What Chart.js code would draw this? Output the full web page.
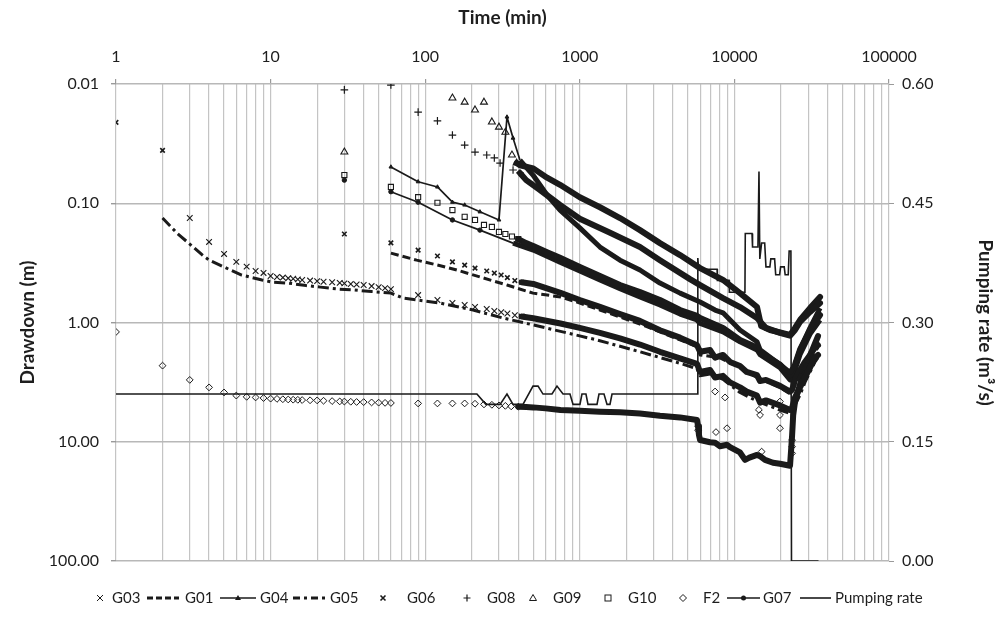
<!DOCTYPE html>
<html><head><meta charset="utf-8">
<script src="https://cdn.jsdelivr.net/npm/chart.js@4.4.1/dist/chart.umd.min.js"></script>
<style>html,body{margin:0;padding:0;background:#fff;}#wrap{width:1001px;height:617px;}</style>
</head><body><div id="wrap"><canvas id="c" width="1001" height="617"></canvas></div>
<script>
// ---------- tick labels ----------
const xTicks = [1, 10, 100, 1000, 10000, 100000];
const yTicks = [0.01, 0.1, 1, 10, 100];
const y2Ticks = [0, 0.15, 0.30, 0.45, 0.60];
const seriesNames = ['G03','G01','G04','G05','G06','G08','G09','G10','F2','G07','Pumping rate'];

// ---------- data: [time (min), drawdown (m)] ----------
const G06 = [[1,0.021],[2,0.036],[30,0.181],[60,0.215],[90,0.247],[120,0.277],[150,0.31],[180,0.33],[210,0.35],[250,0.37],[280,0.385],[310,0.40],[340,0.42],[380,0.445],[420,0.46],
 [500,0.475],[750,0.565],[1000,0.648],[1350,0.74],[1820,0.85],[2450,0.97],[3300,1.16],[4450,1.34],[5730,1.55],[6000,1.76],[6950,1.70],[7500,1.97],[8440,1.87],[9370,2.14],[10870,2.32],[12000,2.6],[14000,2.76],[14650,3.1],[16000,3.03],[19700,3.4],[22900,3.8],[23600,3.68],[24670,3.03],[26570,2.5],[28600,2.14],[30840,1.87],[33220,1.62],[34750,1.55]];
const G03 = [[3,0.133],[4,0.211],[5,0.266],[6,0.31],[7,0.34],[8,0.37],[9,0.384],[10,0.407],[11,0.415],[12,0.42],[13,0.425],[14,0.43],[15,0.435],[16,0.44],[18,0.445],[20,0.45],[22,0.455],[25,0.46],[28,0.465],[30,0.47],[33,0.475],[36,0.48],[40,0.485],[45,0.495],[50,0.505],[55,0.515],[60,0.525],
 [90,0.589],[120,0.648],[150,0.687],[180,0.713],[210,0.742],[250,0.77],[280,0.80],[310,0.82],[340,0.84],[380,0.87],[420,0.89],
 [500,0.92],[750,1.02],[1000,1.11],[1350,1.22],[1820,1.36],[2450,1.53],[3300,1.76],[4450,2.0],[5730,2.22],[6000,2.6],[6950,2.5],[7500,2.89],[8440,2.8],[9370,3.18],[10870,3.5],[12000,3.8],[14000,4.1],[14650,4.7],[16000,4.5],[19700,4.96],[22900,5.42],[23600,5.2],[24670,4.25],[26570,3.5],[28600,2.89],[30840,2.39],[33220,1.97],[34750,1.87]];
const G05 = [[2,0.133],[2.5,0.18],[3,0.22],[3.6,0.27],[4,0.30],[4.7,0.33],[5.5,0.363],[6.5,0.40],[7.3,0.415],[8.8,0.44],[10.4,0.46],[13,0.467],[17,0.49],[21,0.505],[28,0.525],[35,0.534],[45,0.55],[60,0.567],
 [72,0.624],[125,0.687],[204,0.786],[318,0.916],[498,1.047],[820,1.22],[1290,1.40],[2450,1.76],[4450,2.2],[5730,2.44],[6000,2.8],[6950,2.7],[8440,3.0],[10870,3.86],[14000,4.56],[19700,5.42],[22900,5.8],[24670,4.92],[26570,4.05],[28600,3.18],[30840,2.6],[33220,2.14],[34750,1.97]];
const G01 = [[60,0.262],[88,0.30],[120,0.33],[160,0.363],[226,0.415],[338,0.485],[498,0.567],[750,0.61],[1000,0.687],[1350,0.786],[1820,0.90],[2450,1.03],[3300,1.2],[4450,1.40],[5730,1.59],[6000,1.87],[8000,1.97],[10870,2.39],[14000,2.89],[19700,3.5],[22900,3.97],[24670,3.34],[28600,2.34],[33220,1.76],[34750,1.62]];
const F2 = [[1,1.2],[2,2.3],[3,3.03],[4,3.5],[5,3.86],[6,4.1],[7,4.2],[8,4.25],[9,4.3],[10,4.35],[11,4.37],[12,4.4],[13,4.42],[14,4.44],[15,4.45],[16,4.47],[18,4.49],[20,4.5],[22,4.53],[25,4.56],[28,4.59],[30,4.6],[33,4.62],[36,4.64],[40,4.65],[45,4.68],[50,4.7],[55,4.72],[60,4.73],
 [90,4.77],[120,4.77],[150,4.77],[180,4.77],[210,4.8],[240,4.86],[270,4.9],[300,4.96],[330,5.0],[360,5.05],[400,5.08],
 [450,5.12],[500,5.15],[600,5.25],[750,5.42],[1000,5.5],[1350,5.6],[1820,5.67],[2450,5.8],[3300,6.05],[4450,6.25],[5730,6.57],[5820,7.4],[5900,8.8],[6000,9.67],[6950,10.1],[7500,10.2],[8070,10.9],[8960,10.6],[9370,11.1],[10870,12.3],[11720,14.2],[12500,13.6],[14010,12.9],[14650,13.2],[15780,14.2],[17770,15.0],[19720,15.3],[22900,15.9],
 [23600,9.0],[24000,6.0],[24670,4.6],[26570,3.3],[28600,2.5],[30840,1.9],[33220,1.5],[34750,1.3]];
const F2_spot = [[5820,7.4],[5820,8.0],[7500,3.79],[8700,4.25],[7600,8.3],[8960,7.7],[14650,5.97],[14400,5.4],[19720,5.97],[19720,4.6],[19720,7.7],[15000,12.1],[23600,9.7],[23600,11.0],[23600,12.5]];
const G09 = [[30,0.0372],[150,0.0131],[180,0.0142],[210,0.0165],[240,0.0142],[270,0.0208],[300,0.023],[330,0.0254],[364,0.0394],[390,0.046],
 [410,0.048],[500,0.051],[614,0.061],[745,0.070],[1000,0.089],[1350,0.108],[1820,0.133],[2450,0.168],[3300,0.216],[4450,0.272],[6000,0.35],[8440,0.44],[10870,0.567],[14010,0.742],[14900,1.07],[17000,1.156],[22900,1.27],[24670,1.11],[26570,0.953],[30840,0.757],[35800,0.61]];
const G08 = [[30,0.0112],[60,0.0102],[90,0.0172],[120,0.0204],[150,0.0268],[180,0.0325],[210,0.0372],[250,0.0394],[280,0.0417],[305,0.046],[370,0.0526],[410,0.0557],
 [450,0.064],[553,0.0774],[745,0.1034],[1000,0.135],[1570,0.177],[2450,0.233],[3300,0.30],[5160,0.433],[6000,0.486],[8440,0.624],[10870,0.742],[14000,0.916],[16000,1.11],[19700,1.22],[22900,1.29],[24670,1.156],[26570,0.99],[30840,0.816],[35800,0.687]];
const G04 = [[60,0.0496],[90,0.066],[120,0.073],[150,0.098],[180,0.1034],[226,0.118],[300,0.138],[338,0.0189],[370,0.0284],[410,0.0434],[498,0.058],[614,0.0853],[745,0.114],[1000,0.161],[1350,0.233],[1820,0.30],[2450,0.363],[3300,0.467],[4450,0.567],[6000,0.673],[7500,0.786],[8440,0.83],[10870,1.156],[14000,1.45],[14650,1.69],[19700,2.25],[22900,2.62],[24670,2.25],[26570,1.69],[30840,1.11],[35800,0.757]];
const G07 = [[30,0.064],[45,null],[60,0.080],[90,0.098],[150,0.138],[226,0.168],[370,0.216],[500,0.247],[745,0.312],[1000,0.37],[1350,0.44],[1820,0.52],[2450,0.61],[3300,0.713],[4450,0.85],[5730,0.953],[6000,1.02],[8440,1.2],[10870,1.45],[14000,1.7],[14650,1.86],[19700,2.39],[22900,3.03],[23950,2.9],[24670,2.5],[26570,1.86],[30840,1.25],[35800,0.953]];
const G10 = [[30,0.058],[60,0.073],[90,0.089],[120,0.099],[150,0.114],[180,0.130],[210,0.138],[240,0.152],[270,0.158],[300,0.174],[330,0.181],[364,0.19],[400,0.20],
 [450,0.216],[500,0.228],[614,0.257],[745,0.287],[1000,0.342],[1350,0.408],[1820,0.485],[2450,0.555],[3300,0.648],[4450,0.786],[5730,0.88],[6000,0.916],[8440,1.11],[10870,1.40],[14000,1.62],[14650,1.78],[19700,2.25],[22900,2.76],[23600,2.6],[24670,2.25],[26570,1.69],[30840,1.15],[35800,0.865]];
// pumping rate: [time (min), rate (m3/s)]
const pumpRate = [[1,0.21],[216,0.21],[247,0.197],[305,0.197],[338,0.21],[370,0.197],[429,0.197],[498,0.22],[537,0.22],[578,0.21],[661,0.21],[712,0.22],[779,0.21],[864,0.21],[904,0.197],[1002,0.197],[1033,0.21],[1096,0.21],[1130,0.197],[1292,0.197],[1331,0.21],[1434,0.21],[1500,0.197],[1567,0.197],[1616,0.21],[5730,0.21],[5800,0.381],[5870,0.367],[7730,0.367],[7760,0.353],[9230,0.353],[9280,0.338],[11700,0.338],[11760,0.412],[13000,0.412],[13100,0.395],[14200,0.395],[14420,0.49],[14600,0.38],[15000,0.40],[15700,0.40],[16000,0.37],[16960,0.37],[17200,0.38],[18200,0.38],[18500,0.36],[19600,0.36],[19900,0.37],[21000,0.37],[21300,0.36],[22300,0.36],[22600,0.39],[23200,0.39],[23400,0],[35000,0]];

// ---------- styling / building ----------
const INK = '#1a1a1a';
const FONT = 'Lato, "Open Sans", sans-serif';
const pts = a => a.map(p => ({x: p[0], y: p[1]}));
const CLEAR = 'rgba(0,0,0,0)';

function markerSeries(label, arr, bandFrom, style, radius, bw) {
  return {
    label, data: pts(arr), yAxisID: 'y', showLine: true, spanGaps: false,
    borderColor: INK, borderWidth: 6, borderJoinStyle: 'round', borderCapStyle: 'round',
    segment: { borderColor: c => (c.p0.parsed.x >= bandFrom ? INK : CLEAR) },
    pointStyle: style,
    pointRadius: c => (c.parsed && c.parsed.x <= bandFrom ? radius : 0),
    pointBorderColor: INK, pointBackgroundColor: CLEAR, pointBorderWidth: bw, pointHoverRadius: 0
  };
}
function lineSeries(label, arr, thickFrom, thin, thick, dash, style, radius) {
  return {
    label, data: pts(arr), yAxisID: 'y', showLine: true, spanGaps: false,
    borderColor: INK, borderWidth: thin, borderDash: dash || [], borderJoinStyle: 'round',
    segment: { borderWidth: c => (c.p0.parsed.x >= thickFrom ? thick : thin) },
    pointStyle: style || 'circle',
    pointRadius: c => (style && c.parsed && c.parsed.x < thickFrom ? radius : 0),
    pointBorderColor: INK, pointBackgroundColor: INK, pointBorderWidth: 1, pointHoverRadius: 0
  };
}

const datasets = [
  markerSeries('G03', G03, 420, 'crossRot', 4, 1.1),
  lineSeries('G01', G01, 1e9, 3, 3, [8, 4]),
  lineSeries('G04', G04, 410, 1.7, 5, [], 'triangle', 2.2),
  lineSeries('G05', G05, 1e9, 3, 3, [11, 4, 3, 4]),
  markerSeries('G06', G06, 420, 'crossRot', 3.2, 1.6),
  markerSeries('G08', G08, 410, 'cross', 3.8, 1.2),
  markerSeries('G09', G09, 390, 'triangle', 4, 1.1),
  markerSeries('G10', G10, 400, 'rect', 3.6, 1.1),
  markerSeries('F2', F2, 400, 'rectRot', 3.4, 1.0),
  Object.assign(markerSeries('F2 ', F2_spot, 1e9, 'rectRot', 3.4, 1.0), {showLine: false}),
  lineSeries('G07', G07, 370, 1.7, 5, [], 'circle', 2.2),
  {label: 'Pumping rate', data: pts(pumpRate), yAxisID: 'y2', showLine: true, borderColor: INK, borderWidth: 1.6, pointRadius: 0, pointHoverRadius: 0}
];

const isDecade = v => Math.abs(Math.log10(v) - Math.round(Math.log10(v))) < 1e-9;

// legend row under the plot, laid out like the reference
const legendItems = [
  {n: 0, kind: 'm', shape: 'x', mx: 100, tx: 112},
  {n: 1, kind: 'l', dash: [6, 3], w: 3, x0: 147, x1: 179, tx: 185},
  {n: 2, kind: 'l', dash: [], w: 1.6, x0: 220, x1: 256, shape: 'trif', tx: 260},
  {n: 3, kind: 'l', dash: [7, 4, 3, 4], w: 3, x0: 293, x1: 327, tx: 330},
  {n: 4, kind: 'm', shape: 'xb', mx: 383, tx: 407},
  {n: 5, kind: 'm', shape: '+', mx: 467, tx: 487},
  {n: 6, kind: 'm', shape: 'tri', mx: 533, tx: 553},
  {n: 7, kind: 'm', shape: 'sq', mx: 608, tx: 628},
  {n: 8, kind: 'm', shape: 'dia', mx: 683, tx: 703},
  {n: 9, kind: 'l', dash: [], w: 1.6, x0: 727, x1: 760, shape: 'dot', tx: 763},
  {n: 10, kind: 'l', dash: [], w: 1.6, x0: 800, x1: 831, tx: 835}
];
function glyph(ctx, shape, x, y) {
  ctx.beginPath();
  ctx.setLineDash([]);
  if (shape === 'x' || shape === 'xb') {
    const r = shape === 'x' ? 3 : 2.5; ctx.lineWidth = shape === 'x' ? 1 : 1.6;
    ctx.moveTo(x - r, y - r); ctx.lineTo(x + r, y + r); ctx.moveTo(x + r, y - r); ctx.lineTo(x - r, y + r); ctx.stroke();
  } else if (shape === '+') {
    ctx.lineWidth = 1.2; ctx.moveTo(x - 3.5, y); ctx.lineTo(x + 3.5, y); ctx.moveTo(x, y - 3.5); ctx.lineTo(x, y + 3.5); ctx.stroke();
  } else if (shape === 'tri') {
    ctx.lineWidth = 1; ctx.moveTo(x, y - 3.5); ctx.lineTo(x + 3.5, y + 2.5); ctx.lineTo(x - 3.5, y + 2.5); ctx.closePath(); ctx.stroke();
  } else if (shape === 'trif') {
    ctx.moveTo(x, y - 3); ctx.lineTo(x + 3, y + 2); ctx.lineTo(x - 3, y + 2); ctx.closePath(); ctx.fill();
  } else if (shape === 'sq') {
    ctx.lineWidth = 1; ctx.strokeRect(x - 3, y - 3, 6, 6);
  } else if (shape === 'dia') {
    ctx.lineWidth = 1; ctx.moveTo(x, y - 3.5); ctx.lineTo(x + 3.5, y); ctx.lineTo(x, y + 3.5); ctx.lineTo(x - 3.5, y); ctx.closePath(); ctx.stroke();
  } else if (shape === 'dot') {
    ctx.arc(x, y, 2.5, 0, Math.PI * 2); ctx.fill();
  }
}
const legendPlugin = {
  id: 'refLegend',
  afterDraw(chart) {
    const ctx = chart.ctx, y = 598;
    ctx.save();
    ctx.strokeStyle = INK; ctx.fillStyle = INK;
    ctx.font = '15px ' + FONT; ctx.textBaseline = 'middle'; ctx.textAlign = 'left';
    legendItems.forEach(it => {
      ctx.fillStyle = INK;
      if (it.kind === 'm') {
        glyph(ctx, it.shape, it.mx, y);
      } else {
        ctx.beginPath(); ctx.lineWidth = it.w; ctx.setLineDash(it.dash);
        ctx.moveTo(it.x0, y); ctx.lineTo(it.x1, y); ctx.stroke();
        if (it.shape) glyph(ctx, it.shape, (it.x0 + it.x1) / 2, y);
      }
      ctx.setLineDash([]);
      ctx.fillStyle = '#1e1e1e';
      ctx.fillText(seriesNames[it.n], it.tx, y);
    });
    ctx.restore();
  }
};

const tickFont = {family: FONT, size: 16};
const titleFont = {family: FONT, size: 19, weight: 'bold'};
new Chart(document.getElementById('c'), {
  type: 'scatter',
  data: {datasets},
  plugins: [legendPlugin],
  options: {
    responsive: false, animation: false, events: [],
    layout: {padding: {left: 0, right: 0, top: 0, bottom: 56}},
    plugins: {legend: {display: false}, tooltip: {enabled: false}},
    scales: {
      x: {
        type: 'logarithmic', position: 'top', min: 1, max: 100000,
        afterBuildTicks: ax => { const t = []; for (let e = 0; e <= 5; e++) for (let m = 1; m <= 9; m++) { const v = m * Math.pow(10, e); if (v <= 100000) t.push({value: v}); } ax.ticks = t; },
        afterFit: s => { s.height = 84; },
        ticks: {autoSkip: false, maxRotation: 0, minRotation: 0, padding: 13, color: '#1e1e1e', font: tickFont,
          callback: v => (xTicks.includes(v) ? String(v) : '')},
        grid: {color: '#c4c4c4', lineWidth: 1.2, tickLength: 5, tickColor: c => (c.tick && isDecade(c.tick.value) ? '#9a9a9a' : CLEAR)},
        border: {display: false},
        title: {display: true, text: 'Time (min)', color: '#1e1e1e', font: titleFont, padding: {top: 6, bottom: 0}}
      },
      y: {
        type: 'logarithmic', position: 'left', reverse: true, min: 0.01, max: 100,
        afterBuildTicks: ax => { ax.ticks = yTicks.map(v => ({value: v})); },
        afterFit: s => { s.width = 116; },
        ticks: {padding: 12, color: '#1e1e1e', font: tickFont, callback: v => Number(v).toFixed(2)},
        grid: {color: '#b8b8b8', lineWidth: 1.4, tickLength: 5, tickColor: '#9a9a9a'},
        border: {display: false},
        title: {display: true, text: 'Drawdown (m)', color: '#1e1e1e', font: titleFont, padding: {top: 16, bottom: 0}}
      },
      y2: {
        type: 'linear', position: 'right', min: 0, max: 0.6,
        afterBuildTicks: ax => { ax.ticks = y2Ticks.map(v => ({value: v})); },
        afterFit: s => { s.width = 112; },
        ticks: {padding: 8, color: '#1e1e1e', font: tickFont, callback: v => Number(v).toFixed(2)},
        grid: {drawOnChartArea: false, tickLength: 5, tickColor: '#9a9a9a'},
        border: {display: false},
        title: {display: true, text: 'Pumping rate (m³/s)', color: '#1e1e1e', font: titleFont, padding: {top: 4, bottom: 0}}
      }
    }
  }
});
</script>
</body></html>
